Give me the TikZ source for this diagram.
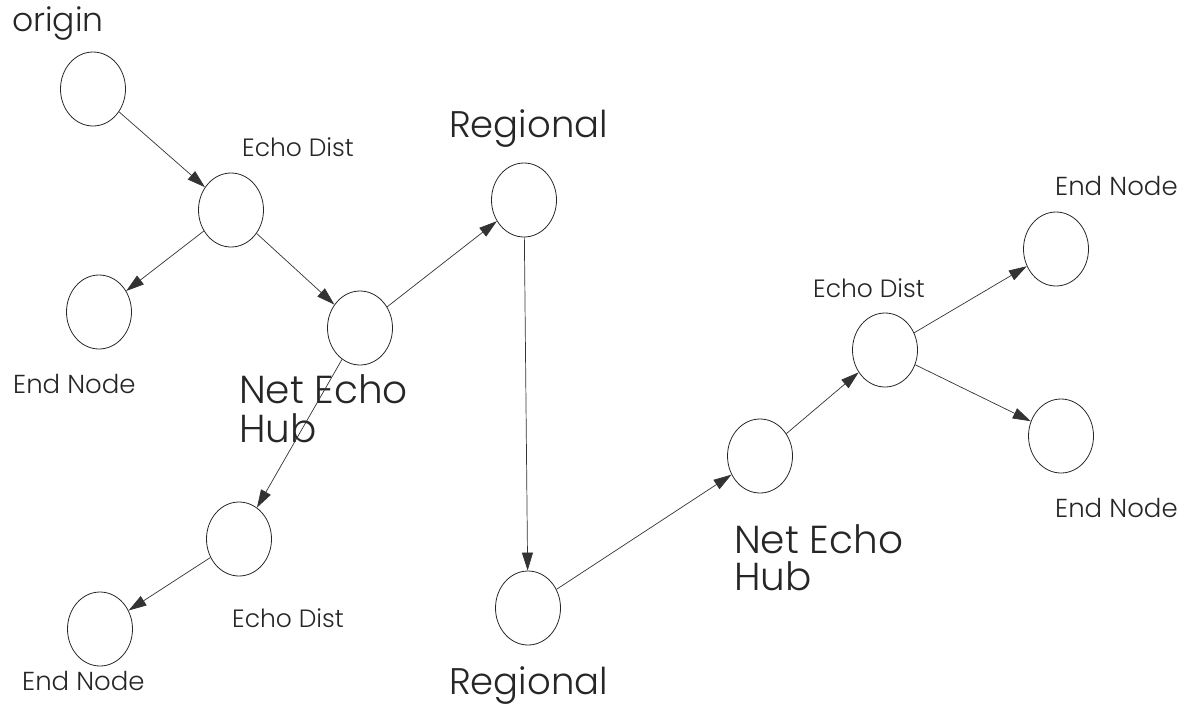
\documentclass[tikz,border=0pt]{standalone}
\usepackage{fontspec}
\setmainfont{Poppins Light}
\usetikzlibrary{arrows.meta,shapes.geometric}
\tikzset{
  nd/.style={draw=black!85, line width=0.8pt, ellipse, minimum width=65pt, minimum height=74pt, inner sep=0pt},
  conn/.style={draw=black!80, line width=0.7pt, -{Triangle[length=18pt,width=11pt]}},
  small/.style={anchor=base west, inner sep=0pt, font=\fontsize{25}{30}\selectfont, text=black!85},
  endlbl/.style={small, font=\fontsize{26}{30}\selectfont},
  big/.style={anchor=base west, inner sep=0pt, font=\fontsize{37}{39}\selectfont, text=black!85},
  hublbl/.style={big, font=\fontsize{39}{39}\selectfont},
  originlbl/.style={big, font=\fontsize{33}{39}\selectfont},
}
\begin{document}
\begin{tikzpicture}[x=1pt,y=-1pt]
\useasboundingbox (0,0) rectangle (1186,707);
% nodes
\node[nd] (origin) at (93,89) {};
\node[nd] (ed1) at (231,210) {};
\node[nd] (en1) at (99,312) {};
\node[nd] (hub1) at (360,328) {};
\node[nd] (reg1) at (524,200) {};
\node[nd] (ed2) at (239,539) {};
\node[nd] (en2) at (100,629) {};
\node[nd] (reg2) at (528,608) {};
\node[nd] (hub2) at (760,456) {};
\node[nd] (ed3) at (885,350) {};
\node[nd] (en3) at (1056,249) {};
\node[nd] (en4) at (1061,436) {};
% labels
\node[originlbl] (lorigin) at (12,31) {origin};
\node[small] (led1) at (242,156) {Echo Dist};
\node[big] (lreg1) at (449,137) {Regional};
\node[endlbl] (len1) at (13,393) {End Node};
\node[hublbl] (lhub1a) at (239,403) {Net Echo};
\node[hublbl] (lhub1b) at (239,442) {Hub};
\node[small] (led2) at (232,627) {Echo Dist};
\node[endlbl] (len2) at (22,690) {End Node};
\node[big] (lreg2) at (449,694) {Regional};
\node[small] (led3) at (813,297) {Echo Dist};
\node[endlbl] (len3) at (1055,195) {End Node};
\node[endlbl] (len4) at (1055,517) {End Node};
\node[hublbl] (lhub2a) at (734,553) {Net Echo};
\node[hublbl] (lhub2b) at (734,590) {Hub};
% connectors
\draw[conn] (origin) -- (ed1);
\draw[conn] (ed1) -- (en1);
\draw[conn] (ed1) -- (hub1);
\draw[conn] (hub1) -- (reg1);
\draw[conn] (reg1) -- (reg2);
\draw[conn] (hub1) -- (ed2);
\draw[conn] (ed2) -- (en2);
\draw[conn] (reg2) -- (hub2);
\draw[conn] (hub2) -- (ed3);
\draw[conn] (ed3) -- (en3);
\draw[conn] (ed3) -- (en4);
\end{tikzpicture}
\end{document}
